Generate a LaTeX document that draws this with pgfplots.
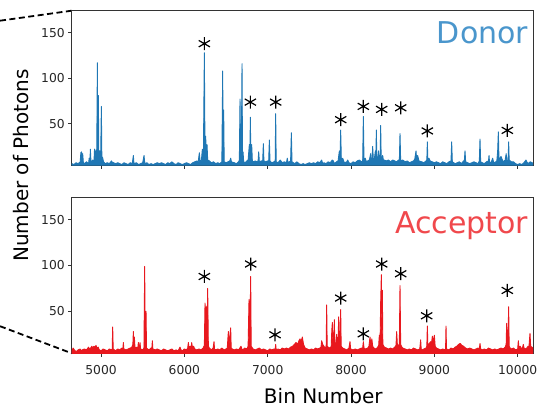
\documentclass[border=0pt]{standalone}
\usepackage{pgfplots}
\pgfplotsset{compat=1.18}
\usepackage{fontspec}
\setmainfont{DejaVu Sans}
\definecolor{donorline}{RGB}{31,119,180}
\definecolor{donortext}{RGB}{74,150,204}
\definecolor{accline}{RGB}{232,24,30}
\definecolor{acctext}{RGB}{240,72,76}

\pgfplotstableread{
x y
4650 6
4675 5
4700 7
4725 6
4750 8
4758 18
4766 19
4774 8
4780 17
4788 7
4800 6
4825 8
4850 6
4858 12
4866 6
4872 22
4880 7
4900 10
4915 8
4922 22
4930 9
4940 21
4948 10
4956 117
4962 12
4968 81
4974 12
4985 20
4995 10
5004 69
5010 12
5018 13
5030 8
5050 6
5075 7
5100 6
5125 9
5130 8
5150 7
5175 6
5200 7
5225 6
5250 5
5275 7
5300 6
5325 5
5350 7
5375 6
5388 15
5395 6
5425 7
5450 5
5475 6
5500 7
5516 15
5525 6
5550 7
5575 5
5600 6
5625 5
5650 6
5675 7
5700 6
5725 7
5750 6
5775 5
5800 7
5825 6
5850 8
5875 6
5900 5
5925 7
5950 6
5975 5
6000 6
6025 7
6050 6
6075 5
6100 7
6125 8
6150 9
6165 7
6180 18
6190 8
6205 10
6216 22
6228 10
6240 128
6248 14
6256 36
6264 14
6272 27
6280 10
6300 9
6325 7
6350 8
6375 6
6400 7
6425 6
6450 8
6460 108
6466 12
6472 65
6478 8
6500 7
6525 8
6545 9
6556 12
6565 8
6600 7
6625 6
6650 8
6660 10
6668 77
6676 12
6684 20
6692 116
6698 12
6704 19
6712 8
6730 7
6750 9
6765 10
6780 27
6786 12
6792 57
6798 12
6808 27
6816 9
6830 8
6850 9
6870 8
6885 9
6892 19
6900 8
6925 9
6940 9
6948 28
6955 9
6975 8
7000 9
7012 9
7020 32
7028 9
7050 7
7075 8
7090 9
7096 61
7102 8
7125 7
7150 10
7175 7
7200 8
7225 7
7235 12
7245 7
7275 9
7284 40
7292 8
7325 6
7350 8
7375 6
7400 5
7425 6
7450 5
7475 6
7500 7
7525 6
7550 7
7575 6
7600 8
7625 7
7648 10
7660 6
7675 7
7700 6
7725 8
7750 7
7775 10
7788 9
7800 6
7825 8
7845 9
7860 20
7868 10
7876 43
7884 10
7900 12
7920 7
7950 8
7960 10
7975 7
8000 6
8025 8
8050 7
8075 9
8100 10
8125 8
8140 9
8148 58
8156 9
8170 12
8185 8
8200 9
8220 10
8236 17
8244 9
8254 12
8260 25
8268 10
8280 11
8292 20
8298 12
8304 43
8310 11
8322 12
8330 20
8340 11
8350 14
8356 48
8362 12
8370 11
8380 15
8390 9
8400 10
8425 9
8450 10
8475 8
8500 10
8525 9
8550 8
8570 10
8580 9
8588 39
8596 9
8620 10
8650 8
8675 9
8700 7
8725 8
8750 9
8765 11
8780 20
8788 10
8800 15
8815 9
8850 8
8875 7
8900 9
8910 10
8916 30
8922 10
8935 12
8950 9
8975 8
9000 7
9025 8
9050 7
9075 6
9100 8
9125 7
9150 6
9175 8
9200 9
9208 30
9216 8
9250 6
9275 7
9300 8
9325 6
9350 9
9360 9
9368 20
9376 8
9400 7
9425 6
9450 7
9475 8
9500 7
9525 6
9540 9
9548 33
9556 8
9575 7
9600 6
9625 8
9650 9
9656 15
9662 8
9680 7
9700 12
9710 8
9725 7
9750 9
9760 20
9768 41
9776 10
9800 14
9825 8
9850 10
9862 17
9870 9
9885 10
9892 30
9898 10
9925 8
9950 8
9975 6
10000 5
10025 6
10050 5
10075 7
10100 10
10110 8
10125 6
10150 8
10175 7
10185 6
}\donor

\pgfplotstableread{
x y
4650 7
4665 10
4680 8
4700 6
4725 8
4750 9
4760 7
4775 8
4800 9
4825 8
4850 11
4860 9
4875 10
4890 12
4900 10
4915 12
4930 11
4940 13
4950 10
4965 11
4980 8
5000 7
5025 9
5050 8
5075 7
5100 9
5125 8
5134 9
5140 33
5146 9
5160 8
5175 7
5200 9
5225 8
5250 10
5262 9
5268 16
5274 9
5300 8
5325 9
5350 10
5370 11
5382 14
5388 28
5394 11
5400 22
5408 10
5425 11
5440 9
5448 16
5455 9
5462 10
5468 16
5475 9
5500 8
5515 10
5524 99
5530 14
5540 50
5546 10
5560 9
5575 8
5600 10
5610 10
5616 18
5622 9
5650 8
5675 9
5700 8
5725 7
5750 9
5775 8
5800 7
5825 8
5850 9
5875 7
5900 8
5925 7
5948 11
5960 8
5975 7
6000 9
6025 8
6040 10
6048 16
6056 10
6070 12
6080 10
6088 16
6096 11
6110 12
6125 9
6150 8
6175 9
6200 8
6225 10
6240 13
6248 59
6256 20
6264 55
6272 25
6280 75
6288 12
6300 10
6325 8
6345 10
6356 17
6362 9
6375 8
6400 9
6425 8
6450 10
6475 8
6500 9
6515 10
6528 28
6535 12
6542 20
6556 32
6562 10
6575 9
6600 8
6625 9
6650 8
6665 10
6680 12
6690 9
6700 8
6725 10
6750 9
6765 12
6776 63
6786 20
6796 88
6802 12
6825 9
6850 8
6875 9
6900 10
6925 8
6950 9
6975 8
7000 7
7025 9
7050 8
7075 9
7090 9
7096 14
7102 8
7125 9
7150 8
7175 10
7200 9
7225 10
7250 9
7275 11
7300 12
7320 14
7340 16
7360 14
7375 18
7388 20
7400 17
7416 22
7430 14
7450 10
7475 9
7500 8
7525 9
7550 8
7575 10
7600 9
7625 10
7640 11
7648 18
7660 14
7675 12
7690 10
7702 12
7708 57
7714 12
7725 11
7750 10
7762 12
7770 30
7776 38
7782 16
7790 12
7800 41
7806 13
7815 12
7828 25
7835 11
7844 14
7852 44
7860 13
7868 20
7876 52
7882 12
7900 10
7925 9
7950 8
7975 10
7988 17
7995 9
8025 8
8050 9
8075 8
8100 9
8125 10
8140 10
8148 17
8156 10
8175 9
8200 10
8215 12
8228 22
8238 13
8250 20
8260 12
8275 10
8300 9
8320 11
8332 13
8340 24
8348 14
8356 60
8364 90
8370 30
8376 73
8382 14
8400 11
8425 10
8450 9
8475 10
8500 9
8525 11
8540 13
8548 28
8556 14
8570 13
8580 14
8588 78
8596 14
8605 12
8620 10
8650 9
8675 8
8700 9
8725 8
8750 10
8775 9
8800 8
8825 9
8836 19
8842 9
8860 8
8875 9
8900 10
8910 12
8916 34
8922 13
8940 15
8955 17
8965 14
8976 23
8988 16
9000 24
9010 12
9025 10
9050 9
9075 8
9100 9
9125 8
9135 9
9140 34
9146 9
9175 8
9200 10
9225 9
9250 11
9270 12
9290 14
9310 15
9330 13
9350 12
9375 10
9400 9
9425 10
9450 9
9475 8
9500 9
9525 10
9540 9
9548 15
9556 9
9575 8
9600 9
9625 8
9650 10
9675 9
9700 8
9725 9
9750 8
9775 9
9800 10
9825 9
9850 11
9862 14
9868 37
9876 16
9884 20
9892 55
9898 12
9910 10
9925 9
9950 10
9975 8
10000 9
10008 18
10016 10
10030 12
10045 9
10060 11
10068 14
10076 10
10100 9
10125 12
10135 11
10148 26
10156 12
10170 11
10185 10
}\acceptor

\pgfplotsset{
  panel/.style={
    scale only axis, width=461.3bp,
    xmin=4648, xmax=10184, ymin=4.3, ymax=174.3,
    xtick={5000,6000,7000,8000,9000,10000}, ytick={50,100,150},
    scaled x ticks=false, scaled y ticks=false,
    tick align=outside, tick pos=left,
    major tick length=3.5bp,
    tick style={black!80, line width=0.8bp},
    axis line style={black!80, line width=0.8bp},
    ticklabel style={font=\fontsize{12.3bp}{14bp}\selectfont, text=black!85},
    xticklabel style={yshift=-5.5bp},
    /pgf/number format/assume math mode=true,
    /pgf/number format/1000 sep={},
  },
  star/.style={only marks, mark=asterisk, mark size=6.5bp, black, line width=1.2bp},
}

\begin{document}
\begin{tikzpicture}
\useasboundingbox (0,0) rectangle (538bp,408bp);
\draw[line width=1.8bp, dash pattern=on 6bp off 3.5bp] (0,387.3bp) -- (71.7bp,397.3bp);
\draw[line width=1.8bp, dash pattern=on 6bp off 3.5bp] (0,81.8bp) -- (71.7bp,54.7bp);

\begin{axis}[panel, at={(71.7bp,242.8bp)}, anchor=south west, height=154.5bp, xticklabels={}]
\addplot[draw=donorline, fill=donorline, line width=0.9bp, line join=round] table {\donor} \closedcycle;
\addplot[star] coordinates {(6240,138) (6792,73.7) (7096,73.7) (7876,54.4) (8148,69) (8368,65.7) (8596,67.5) (8916,42) (9876,42.6)};
\node[anchor=base east, inner sep=0, text=donortext, font=\fontsize{30bp}{36bp}\selectfont] at (rel axis cs:0.9898,0.789) {Donor};
\end{axis}

\begin{axis}[panel, at={(71.7bp,54.7bp)}, anchor=south west, height=156bp]
\addplot[draw=accline, fill=accline, line width=0.9bp, line join=round] table {\acceptor} \closedcycle;
\addplot[star] coordinates {(6240,88) (6796,101.6) (7088,24.5) (7876,64.5) (8148,25.5) (8368,101.6) (8596,91) (8908,45.2) (9876,72.8)};
\node[anchor=base east, inner sep=0, text=acctext, font=\fontsize{30bp}{36bp}\selectfont] at (rel axis cs:0.9898,0.769) {Acceptor};
\end{axis}

\node[rotate=90, anchor=base, inner sep=0, font=\fontsize{20bp}{24bp}\selectfont] at (28bp,242.5bp) {Number of Photons};
\node[anchor=base, inner sep=0, font=\fontsize{20bp}{24bp}\selectfont] at (323.3bp,4.2bp) {Bin Number};
\end{tikzpicture}
\end{document}
